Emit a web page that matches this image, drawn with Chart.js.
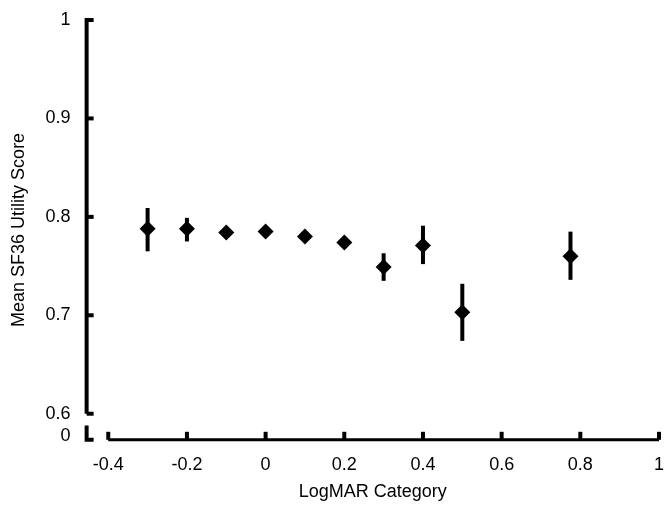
<!DOCTYPE html>
<html><head><meta charset="utf-8">
<script src="https://cdn.jsdelivr.net/npm/chart.js@4"></script>
<style>body{margin:0;background:#fff}#wrap{width:670px;height:507px}</style>
</head><body><div id="wrap"><canvas id="c"></canvas></div>
<script>
const xValues = [-0.3, -0.2, -0.1, 0, 0.1, 0.2, 0.3, 0.4, 0.5, 0.775];
const means = [0.788, 0.788, 0.784, 0.785, 0.780, 0.774, 0.749, 0.771, 0.703, 0.760];
const upper = [0.809, 0.799, 0.784, 0.785, 0.780, 0.774, 0.763, 0.791, 0.732, 0.785];
const lower = [0.765, 0.775, 0.784, 0.785, 0.780, 0.774, 0.735, 0.752, 0.674, 0.736];
const xTicks = [-0.4, -0.2, 0, 0.2, 0.4, 0.6, 0.8, 1];
const yTicks = [0.6, 0.7, 0.8, 0.9, 1];
const ZERO = 0.5775; // broken-axis position for the "0" label

const axesPlugin = {
  id: 'axes',
  beforeDatasetsDraw(chart) {
    const { ctx, scales: { x, y } } = chart;
    ctx.save();
    ctx.strokeStyle = '#000'; ctx.lineWidth = 4; ctx.lineCap = 'butt';
    const x0 = x.left, yb = y.bottom;
    // y axis main piece
    ctx.beginPath(); ctx.moveTo(x0, y.getPixelForValue(1) - 2); ctx.lineTo(x0, y.getPixelForValue(0.6)); ctx.stroke();
    // y axis short piece
    ctx.beginPath(); ctx.moveTo(x0, y.getPixelForValue(0.588)); ctx.lineTo(x0, yb); ctx.lineTo(x0 + 7, yb); ctx.stroke();
    // x axis
    ctx.lineWidth = 3;
    ctx.beginPath(); ctx.moveTo(x.getPixelForValue(-0.4), yb); ctx.lineTo(x.getPixelForValue(1), yb); ctx.stroke();
    ctx.lineWidth = 4;
    xTicks.forEach(v => { const px = x.getPixelForValue(v); ctx.beginPath(); ctx.moveTo(px, yb); ctx.lineTo(px, yb - 8); ctx.stroke(); });
    yTicks.forEach(v => { const py = y.getPixelForValue(v); ctx.beginPath(); ctx.moveTo(x0, py); ctx.lineTo(x0 + 7, py); ctx.stroke(); });
    // error bars
    xValues.forEach((v, i) => {
      const px = x.getPixelForValue(v);
      ctx.beginPath(); ctx.moveTo(px, y.getPixelForValue(upper[i])); ctx.lineTo(px, y.getPixelForValue(lower[i])); ctx.stroke();
    });
    ctx.restore();
  }
};

const font = { family: 'Liberation Sans', size: 18 };
new Chart(document.getElementById('c'), {
  type: 'scatter',
  data: {
    datasets: [{
      data: xValues.map((v, i) => ({ x: v, y: means[i] })),
      pointStyle: 'rectRot', pointRadius: 8, pointHoverRadius: 8,
      backgroundColor: '#000', borderColor: '#000', borderWidth: 0
    }]
  },
  options: {
    responsive: true, maintainAspectRatio: false, animation: false,
    layout: { padding: { top: 20, right: 4, bottom: 0, left: 4 } },
    plugins: { legend: { display: false }, tooltip: { enabled: false } },
    scales: {
      x: {
        type: 'linear', min: -0.455, max: 1,
        afterBuildTicks: s => { s.ticks = xTicks.map(v => ({ value: v })); },
        grid: { display: false }, border: { display: false },
        ticks: { color: '#000', font, padding: 6, callback: v => String(v) },
        title: { display: true, text: 'LogMAR Category', color: '#000', font, padding: { top: 0 } }
      },
      y: {
        type: 'linear', min: 0.5735, max: 1,
        afterBuildTicks: s => { s.ticks = [ZERO, ...yTicks].map(v => ({ value: v })); },
        grid: { display: false }, border: { display: false },
        ticks: { color: '#000', font, padding: 8, callback: v => v === ZERO ? '0' : String(v) },
        title: { display: true, text: 'Mean SF36 Utility Score', color: '#000', font, padding: { bottom: 8 } }
      }
    }
  },
  plugins: [axesPlugin]
});
</script></body></html>
